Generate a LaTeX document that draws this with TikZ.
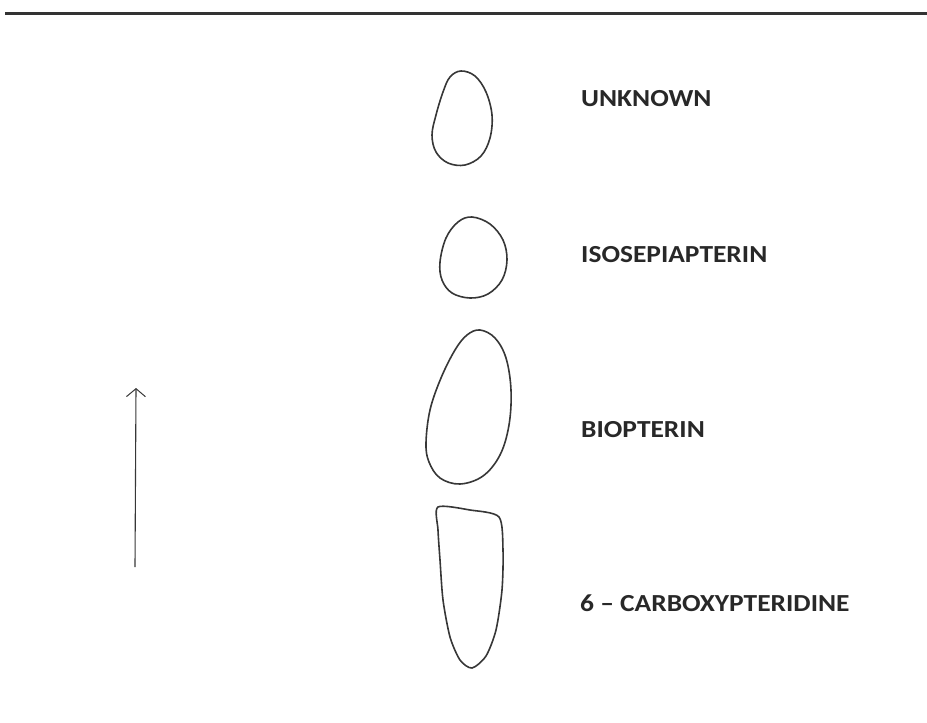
\documentclass[tikz,border=0pt]{standalone}
\usepackage{fontspec}
\setmainfont{Carlito}
\newfontfamily\lblfont[FakeStretch=1.12]{Carlito}
\usepackage{tikz}
\usetikzlibrary{arrows.meta}
\definecolor{pencil}{RGB}{55,55,55}
\definecolor{ink}{RGB}{40,40,40}

\begin{document}
\begin{tikzpicture}[x=1pt, y=-1pt,
  spot/.style={draw=pencil, line width=1.6pt, smooth cycle, tension=0.6},
  lbl/.style={anchor=base west, inner sep=0pt, text=ink,
              font=\lblfont\fontsize{24.5}{28}\selectfont\bfseries},
  ar/.style={-{Straight Barb[length=8pt, width=19pt, line width=1pt]}, line width=1.1pt, draw=pencil},
]
\useasboundingbox (0,0) rectangle (927,723);

% rule across the top
\coordinate (rl) at (5,13);
\coordinate (rr) at (927,13);
\draw[line width=3pt, black!80] (rl) -- (rr);

% spots
\draw[spot] plot coordinates {(461,71) (475,76) (486,92) (492,115) (490,138) (481,156)
  (465,165) (448,163) (436,152) (432,135) (436,115) (443,92) (450,77)};
\draw[spot] plot coordinates {(472,217) (490,224) (503,240) (507,260) (502,280) (488,294)
  (470,298) (452,293) (442,280) (440,262) (446,238) (458,222)};
\draw[spot] plot coordinates {(480,330) (495,338) (506,358) (511,390) (509,425) (500,455)
  (483,476) (460,484) (440,478) (429,462) (426,443) (430,410) (441,378) (455,350) (467,335)};
\draw[spot, tension=0.45] plot coordinates {(438,507) (470,510) (499,517) (503,550) (502,590)
  (496,630) (486,656) (472,668) (460,660) (450,637) (443,600) (440,560) (438,530)};

% labels
\node[lbl] (unk)  at (581,106) {UNKNOWN};
\node[lbl] (iso)  at (581,262) {ISOSEPIAPTERIN};
\node[lbl] (bio)  at (581,437) {BIOPTERIN};
\node[lbl] (carb) at (580,611) {6 – CARBOXYPTERIDINE};

% direction of run
\coordinate (start) at (135,567);
\coordinate (front) at (136,388);
\draw[ar] (start) -- (front);

\end{tikzpicture}
\end{document}
